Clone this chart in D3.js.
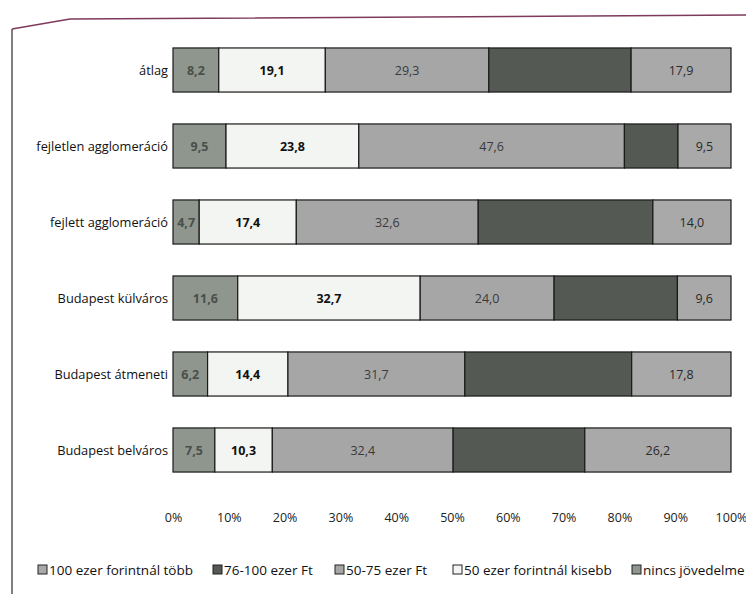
<!DOCTYPE html>
<html><head><meta charset="utf-8">
<script src="https://cdn.jsdelivr.net/npm/d3@7"></script>
<style>body{margin:0;background:#fff}svg{display:block}</style>
</head><body>
<svg id="c" width="746" height="594"></svg>
<script>
const categories = ["átlag","fejletlen agglomeráció","fejlett agglomeráció","Budapest külváros","Budapest átmeneti","Budapest belváros"];
const seriesNames = ["nincs jövedelme","50 ezer forintnál kisebb","50-75 ezer Ft","76-100 ezer Ft","100 ezer forintnál több"];
const nincs   = [8.2, 9.5, 4.7, 11.6, 6.2, 7.5];
const kisebb50 = [19.1, 23.8, 17.4, 32.7, 14.4, 10.3];
const e50_75  = [29.3, 47.6, 32.6, 24.0, 31.7, 32.4];
const e76_100 = [25.5, 9.6, 31.3, 22.1, 29.9, 23.6];
const tobb100 = [17.9, 9.5, 14.0, 9.6, 17.8, 26.2];
const seriesValues = [nincs, kisebb50, e50_75, e76_100, tobb100];
const showLabel = [true, true, true, false, true];
const tickValues = [0,0.1,0.2,0.3,0.4,0.5,0.6,0.7,0.8,0.9,1];
const legendOrder = ["100 ezer forintnál több","76-100 ezer Ft","50-75 ezer Ft","50 ezer forintnál kisebb","nincs jövedelme"];

const colors = ["#8e968e","#f3f5f2","#a6a6a6","#545954","#a9a9a9"];
const labelColors = ["#4a4f4a","#111","#3a3a3a","#fff","#2a2a2a"];
const labelWeights = ["bold","bold","normal","normal","normal"];
const FONT = "'Open Sans', sans-serif";

const svg = d3.select("#c");
// frame
svg.append("path").attr("d","M12,594 L12,29").attr("stroke","#555").attr("stroke-width",1.5).attr("fill","none");
svg.append("path").attr("d","M12,29 L70,19 L746,15").attr("stroke","#7d3a5c").attr("stroke-width",1.5).attr("fill","none");

const x = d3.scaleLinear().domain([0,1]).range([173,731]);
const y = d3.scaleBand().domain(categories).range([32,488]).paddingInner(0.42).paddingOuter(0.21);

const rows = categories.map((c,i)=>{
  const vals = seriesValues.map(s=>s[i]);
  const tot = d3.sum(vals);
  let acc = 0;
  return vals.map((v,k)=>{const s0=acc/tot; acc+=v; return {cat:c,k,v,x0:s0,x1:acc/tot};});
});

const g = svg.append("g");
rows.forEach(segs=>{
  segs.forEach(d=>{
    g.append("rect").attr("x",x(d.x0)).attr("y",y(d.cat)).attr("width",x(d.x1)-x(d.x0)).attr("height",y.bandwidth())
      .attr("fill",colors[d.k]).attr("stroke","#1a1a1a").attr("stroke-width",1.2);
    if(showLabel[d.k]){
      g.append("text").attr("x",(x(d.x0)+x(d.x1))/2).attr("y",y(d.cat)+y.bandwidth()/2)
        .attr("text-anchor","middle").attr("dominant-baseline","central")
        .attr("font-family",FONT).attr("font-size",12.5).attr("font-weight",labelWeights[d.k])
        .attr("fill",labelColors[d.k]).text(d3.format(".1f")(d.v).replace(".",","));
    }
  });
});

// category labels
svg.append("g").selectAll("text").data(categories).join("text")
  .attr("x",168).attr("y",d=>y(d)+y.bandwidth()/2).attr("text-anchor","end").attr("dominant-baseline","central")
  .attr("font-family",FONT).attr("font-size",12.8).attr("fill","#111").text(d=>d);

// x axis
const ax = svg.append("g").attr("transform","translate(0,513)")
  .call(d3.axisBottom(x).tickValues(tickValues).tickFormat(d3.format(".0%")).tickSize(0).tickPadding(0));
ax.select(".domain").remove();
ax.selectAll("text").attr("font-family",FONT).attr("font-size",12.5).attr("fill","#222");

// legend
const legendX = [38,213,335,453,632];
const lg = svg.append("g").attr("transform","translate(0,570)");
legendOrder.forEach((name,i)=>{
  const k = seriesNames.indexOf(name);
  const it = lg.append("g").attr("transform",`translate(${legendX[i]},0)`);
  it.append("rect").attr("x",0).attr("y",-5).attr("width",9).attr("height",9).attr("fill",colors[k]).attr("stroke","#222").attr("stroke-width",1);
  it.append("text").attr("x",11).attr("y",0).attr("dominant-baseline","central")
    .attr("font-family",FONT).attr("font-size",13.5).attr("fill","#111").text(name);
});
</script>
</body></html>
